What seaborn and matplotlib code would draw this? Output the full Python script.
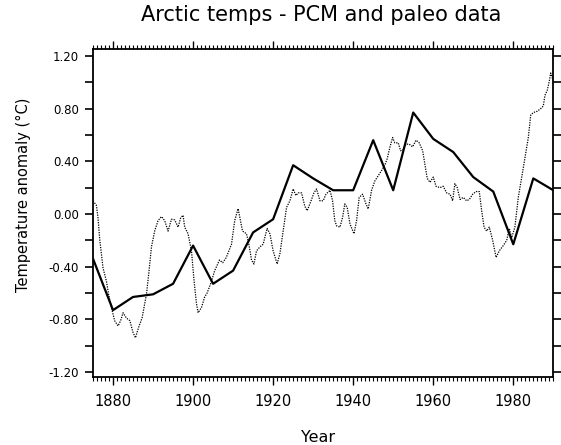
import matplotlib
matplotlib.use("Agg")
import matplotlib.pyplot as plt
from matplotlib.ticker import MultipleLocator, FixedLocator, FixedFormatter
import pandas as pd
import seaborn as sns

# PCM model run (solid line), 5-year points
PCM_YEARS = [1875, 1880, 1885, 1890, 1895, 1900, 1905, 1910, 1915, 1920, 1925, 1930,
             1935, 1940, 1945, 1950, 1955, 1960, 1965, 1970, 1975, 1980, 1985, 1990]
PCM_TEMPS = [-0.34, -0.73, -0.63, -0.61, -0.53, -0.24, -0.53, -0.43, -0.14, -0.04, 0.37, 0.27,
             0.18, 0.18, 0.56, 0.18, 0.77, 0.57, 0.47, 0.28, 0.17, -0.23, 0.27, 0.18]

# paleo reconstruction (dotted line)
PALEO_YEARS = [
    1875.0, 1875.85, 1876.25, 1876.7, 1877.5, 1878.35, 1878.9, 1879.6, 1880.4, 1881.25,
    1881.9, 1882.5, 1883.35, 1884.2, 1885.0, 1885.6, 1886.4, 1887.25, 1888.35, 1888.9,
    1889.6, 1890.4, 1891.25, 1892.1, 1892.9, 1893.75, 1894.6, 1895.4, 1896.25, 1896.9,
    1897.5, 1897.9, 1898.75, 1899.6, 1900.25, 1900.85, 1901.25, 1902.1, 1902.9, 1903.5,
    1904.5, 1905.4, 1906.6, 1907.4, 1908.3, 1909.6, 1910.4, 1911.25, 1911.7, 1912.35,
    1913.35, 1914.0, 1914.6, 1915.2, 1915.85, 1916.7, 1917.5, 1918.5, 1919.2, 1920.0,
    1921.0, 1921.7, 1922.5, 1923.35, 1924.2, 1925.0, 1925.7, 1926.25, 1927.1, 1927.9,
    1928.5, 1929.35, 1930.2, 1930.85, 1931.7, 1932.5, 1933.2, 1934.2, 1934.85, 1935.4,
    1935.85, 1936.7, 1937.35, 1937.9, 1938.5, 1939.2, 1940.2, 1940.85, 1941.5, 1942.35,
    1943.2, 1943.75, 1944.6, 1945.4, 1946.25, 1947.1, 1947.9, 1948.5, 1949.2, 1949.85,
    1950.4, 1951.25, 1951.85, 1952.5, 1953.2, 1954.0, 1954.85, 1955.7, 1956.5, 1957.35,
    1957.9, 1958.5, 1959.2, 1960.0, 1960.7, 1961.7, 1962.5, 1963.35, 1964.2, 1964.85,
    1965.4, 1966.0, 1966.7, 1967.5, 1968.35, 1969.0, 1969.85, 1970.7, 1971.5, 1972.1,
    1972.7, 1973.35, 1974.0, 1974.85, 1975.7, 1976.5, 1977.5, 1978.35, 1979.0, 1979.6,
    1980.4, 1981.25, 1982.5, 1983.75, 1984.35, 1985.0, 1986.0, 1986.85, 1987.5, 1987.9,
    1988.5, 1989.0, 1989.35, 1990.0,
]
PALEO_TEMPS = [
    0.10, 0.065, -0.03, -0.20, -0.41, -0.51, -0.61, -0.71, -0.81, -0.85,
    -0.81, -0.75, -0.79, -0.81, -0.90, -0.94, -0.86, -0.79, -0.61, -0.46,
    -0.25, -0.13, -0.05, -0.02, -0.05, -0.13, -0.04, -0.045, -0.10, -0.03,
    -0.01, -0.10, -0.15, -0.28, -0.51, -0.68, -0.75, -0.71, -0.63, -0.60,
    -0.52, -0.43, -0.35, -0.37, -0.33, -0.23, -0.05, 0.04, -0.03, -0.13,
    -0.15, -0.24, -0.35, -0.38, -0.28, -0.25, -0.23, -0.11, -0.15, -0.28,
    -0.38, -0.30, -0.13, 0.05, 0.10, 0.19, 0.14, 0.16, 0.16, 0.06,
    0.025, 0.09, 0.16, 0.19, 0.10, 0.10, 0.15, 0.18, 0.10, -0.05,
    -0.09, -0.10, -0.026, 0.076, 0.05, -0.076, -0.15, -0.05, 0.126, 0.15,
    0.076, 0.038, 0.18, 0.25, 0.29, 0.33, 0.37, 0.42, 0.51, 0.58,
    0.54, 0.54, 0.48, 0.49, 0.53, 0.53, 0.51, 0.56, 0.54, 0.48,
    0.38, 0.27, 0.24, 0.28, 0.21, 0.20, 0.21, 0.16, 0.15, 0.10,
    0.23, 0.20, 0.11, 0.126, 0.10, 0.11, 0.15, 0.17, 0.17, 0.025,
    -0.10, -0.13, -0.10, -0.20, -0.33, -0.28, -0.24, -0.20, -0.11, -0.18,
    -0.10, 0.126, 0.35, 0.58, 0.75, 0.77, 0.78, 0.80, 0.82, 0.90,
    0.94, 1.01, 1.07, 1.01,
]

X_TICKS = [1880, 1900, 1920, 1940, 1960, 1980]
Y_TICKS = [-1.2, -0.8, -0.4, 0.0, 0.4, 0.8, 1.2]
Y_TICK_LABELS = ["-1.20", "-0.80", "-0.40", "0.00", "0.40", "0.80", "1.20"]

pcm = pd.DataFrame({"year": PCM_YEARS, "temp": PCM_TEMPS})
paleo = pd.DataFrame({"year": PALEO_YEARS, "temp": PALEO_TEMPS})

sns.set_theme(style="ticks")
plt.rcParams["font.family"] = ["DejaVu Sans"]
plt.rcParams["axes.unicode_minus"] = False
plt.rcParams["text.color"] = "black"
plt.rcParams["axes.labelcolor"] = "black"
plt.rcParams["xtick.color"] = "black"
plt.rcParams["ytick.color"] = "black"

fig = plt.figure(figsize=(5.61, 4.45), dpi=100)
ax = fig.add_axes([0.1658, 0.1521, 0.8205, 0.7371])

sns.lineplot(data=paleo, x="year", y="temp", ax=ax, color="black",
             linewidth=0.9, linestyle=(0, (1, 1)), estimator=None, sort=False)
sns.lineplot(data=pcm, x="year", y="temp", ax=ax, color="black",
             linewidth=1.6, estimator=None, sort=False)

ax.set_xlim(1875, 1990)
ax.set_ylim(-1.24, 1.25)

ax.xaxis.set_major_locator(FixedLocator(X_TICKS))
ax.xaxis.set_minor_locator(MultipleLocator(1))
ax.yaxis.set_major_locator(FixedLocator(Y_TICKS))
ax.yaxis.set_major_formatter(FixedFormatter(Y_TICK_LABELS))
ax.yaxis.set_minor_locator(MultipleLocator(0.2))

ax.tick_params(axis="x", which="both", direction="out", top=True, bottom=True,
               labelsize=10.5, pad=6, width=1.0)
ax.tick_params(axis="x", which="major", length=6)
ax.tick_params(axis="x", which="minor", length=3, width=0.8)
ax.tick_params(axis="y", which="both", direction="out", left=True, right=True,
               labelsize=8.5, pad=4, width=1.2, length=6)

for side in ["left", "right", "top", "bottom"]:
    ax.spines[side].set_visible(True)
    ax.spines[side].set_linewidth(1.3)
    ax.spines[side].set_color("black")

ax.set_xlabel("Year", fontsize=11.5)
ax.xaxis.set_label_coords(0.488, -0.161)
ax.set_ylabel("Temperature anomaly (°C)", fontsize=10.5)
ax.yaxis.label.set_va("center")
ax.yaxis.set_label_coords(-0.152, 0.556)

fig.text(0.573, 0.966, "Arctic temps - PCM and paleo data", ha="center", va="center",
         fontsize=15)

fig.savefig("out.png", dpi=100)
plt.close(fig)
